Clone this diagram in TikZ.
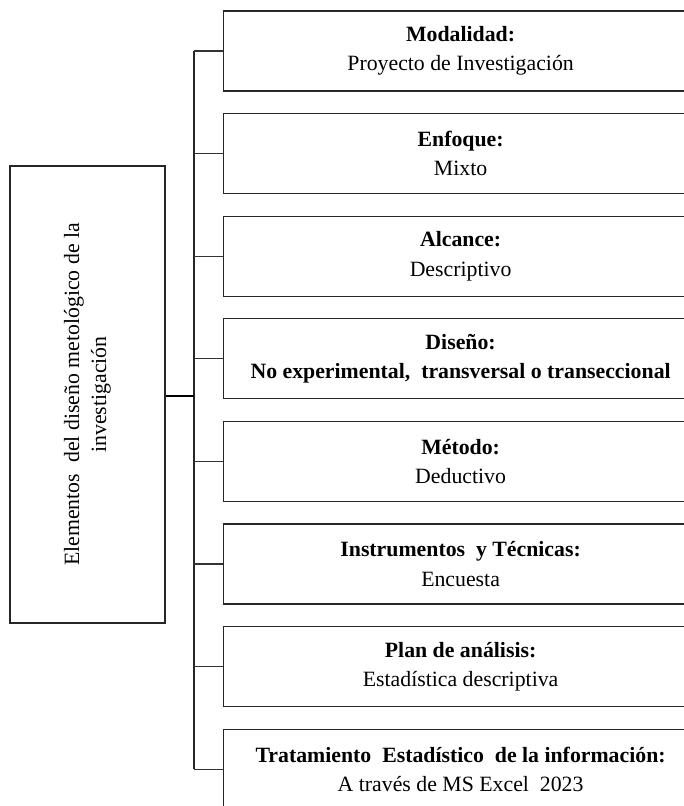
\documentclass[tikz,border=0pt]{standalone}
\usepackage{fontspec}
\setmainfont{Liberation Serif}
\begin{document}
\begin{tikzpicture}[x=1pt,y=-1pt,
  line join=miter,
  itembox/.style={draw=black!85,line width=1.2pt,anchor=west,
    minimum width=474pt,minimum height=80pt,inner sep=0pt,
    align=center,font=\fontsize{21.8}{29.5}\selectfont},
  rootbox/.style={draw=black!85,line width=1.2pt,
    minimum width=155pt,minimum height=457pt,inner sep=0pt},
  roottext/.style={rotate=90,align=center,font=\fontsize{21.8}{27}\selectfont},
  link/.style={draw=black!80,line width=1.2pt},
  trunk/.style={draw=black!85,line width=1.8pt},
  mainlink/.style={draw=black,line width=2.6pt}]

\clip (0,0) rectangle (684,806);

% left block with the vertical title
\node[rootbox] (root) at (87.5,394.5) {};
\node[roottext] (roottitle) at (root.center)
  {Elementos\ \ del diseño metológico de la\\investigación};

% right column of boxes
\node[itembox] (b1) at (223,51)    {\textbf{Modalidad:}\\Proyecto de Investigación};
\node[itembox] (b2) at (223,153.6) {\textbf{Enfoque:}\\Mixto};
\node[itembox] (b3) at (223,256.2) {\textbf{Alcance:}\\Descriptivo};
\node[itembox] (b4) at (223,358.8) {\textbf{Diseño:}\\\textbf{No experimental,\ \ transversal o transeccional}};
\node[itembox] (b5) at (223,461.4) {\textbf{Método:}\\Deductivo};
\node[itembox] (b6) at (223,564)   {\textbf{Instrumentos\ \ y Técnicas:}\\Encuesta};
\node[itembox] (b7) at (223,666.6) {\textbf{Plan de análisis:}\\Estadística descriptiva};
\node[itembox] (b8) at (223,769.2) {\textbf{Tratamiento\ \ Estadístico\ \ de la información:}\\A través de MS Excel\ \ 2023};

% vertical trunk and its branch points
\foreach \i/\yy in {1/51,2/153.6,3/256.2,4/358.8,5/461.4,6/564,7/666.6,8/769.2}
  \coordinate (t\i) at (194,\yy);
\coordinate (tm) at (194,396);

\draw[trunk] (t1) -- (t8);
\foreach \i in {1,...,8}
  \draw[link] (t\i) -- (b\i.west);

% link from the left block to the trunk
\draw[mainlink] (root.east |- tm) -- (tm);
\end{tikzpicture}
\end{document}
